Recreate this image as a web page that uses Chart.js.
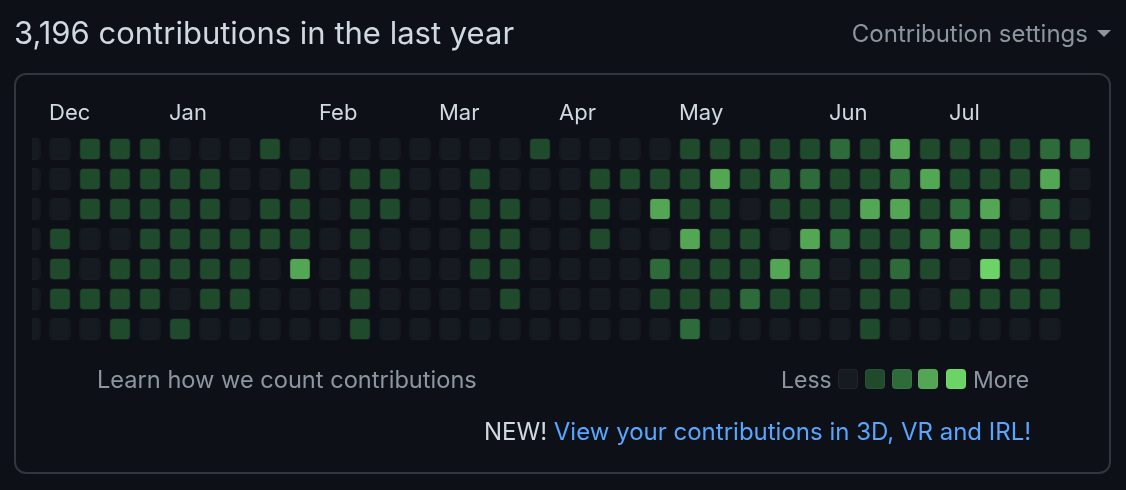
<!DOCTYPE html>
<html><head><meta charset="utf-8">
<script src="https://cdn.jsdelivr.net/npm/chart.js@4"></script>
<style>
html,body{margin:0;padding:0;background:#0d1117;width:1126px;height:490px;overflow:hidden;font-family:Inter,"Noto Sans",sans-serif;}
.abs{position:absolute;white-space:nowrap;}
#title{left:14px;top:17px;font-size:31px;line-height:31px;color:#d1d9e0;}
#settings{right:15px;top:22px;font-size:24px;line-height:24px;color:#8d96a0;}
#settings .caret{display:inline-block;width:0;height:0;border-left:7px solid transparent;border-right:7px solid transparent;border-top:7px solid #8d96a0;margin-left:9px;vertical-align:middle;position:relative;top:-2px;}
#box{left:14px;top:73px;width:1093px;height:397px;border:2px solid #30363d;border-radius:12px;}
#wrap{left:0;top:0;width:1126px;height:490px;}
#learn{left:97px;top:368px;font-size:23.6px;line-height:24px;color:#8d96a0;}
#less{left:781px;top:368.5px;font-size:23px;line-height:23px;color:#8d96a0;}
#more{left:973px;top:368.5px;font-size:23px;line-height:23px;color:#8d96a0;}
.sq{position:absolute;top:369px;width:20px;height:20px;border-radius:4px;box-sizing:border-box;border:1px solid rgba(255,255,255,0.05);}
#news{left:484px;top:420px;font-size:24px;line-height:24px;color:#d1d9e0;}
#news a{color:#58a6ff;text-decoration:none;}
</style></head>
<body>
<div id="box" class="abs"></div>
<div id="wrap" class="abs"><canvas id="c"></canvas></div>
<div id="title" class="abs">3,196 contributions in the last year</div>
<div id="settings" class="abs">Contribution settings<span class="caret"></span></div>
<div id="learn" class="abs">Learn how we count contributions</div>
<div id="less" class="abs">Less</div>
<div id="legendSquares"></div>
<div id="more" class="abs">More</div>
<div id="news" class="abs">NEW! <a>View your contributions in 3D, VR and IRL!</a></div>
<script>
// ---- data ----
const weekdays = ['Sun','Mon','Tue','Wed','Thu','Fri','Sat'];
const weeks = [0,1,2,3,4,5,6,7,8,9,10,11,12,13,14,15,16,17,18,19,20,21,22,23,24,25,26,27,28,29,30,31,32,33,34,35];
const monthLabels = ['Dec','Jan','Feb','Mar','Apr','May','Jun','Jul'];
const monthStartWeek = [1,5,10,14,18,22,27,31];
// contribution level (0-4) per week column, one array per weekday; null = future day
const sun = [0,0,1,1,1,0,0,0,1,0,0,0,0,0,0,0,0,1,0,0,0,0,1,1,1,1,1,2,1,3,1,1,1,1,2,2];
const mon = [0,0,1,1,1,1,1,0,0,1,0,1,1,0,0,1,0,0,0,1,1,1,1,3,1,2,2,1,1,2,3,1,1,1,3,0];
const tue = [0,0,1,1,1,1,1,0,1,1,0,1,1,0,0,1,1,0,0,1,0,3,1,1,0,1,1,1,3,3,1,2,3,0,2,0];
const wed = [0,1,0,0,1,1,1,1,1,1,0,1,0,0,0,1,1,0,0,1,0,0,3,1,1,0,3,2,1,1,2,3,1,1,1,1];
const thu = [0,1,0,1,1,1,1,1,0,3,0,1,0,0,0,1,1,0,0,0,0,2,1,1,1,3,2,0,1,2,1,0,4,1,1,null];
const fri = [0,1,1,1,1,0,1,1,0,0,0,1,0,0,0,0,1,0,0,0,0,1,1,1,2,1,1,0,1,1,0,1,1,1,1,null];
const sat = [0,0,0,1,0,1,0,0,0,0,0,1,0,0,0,0,0,0,0,0,0,0,2,0,0,0,0,0,1,0,0,0,0,0,0,null];
const legendLevels = [0,1,2,3,4];

// ---- styles ----
const palette = ['#161b22','#1f4a2c','#2e6b3a','#53a653','#6cd467'];
const rows = [sun,mon,tue,wed,thu,fri,sat];
const HALF = 11/30;

// legend squares
const lsq = document.getElementById('legendSquares');
const sqLeft = [838,865,892,918,946];
legendLevels.forEach((lv,i)=>{
  const d=document.createElement('div'); d.className='sq';
  d.style.left=sqLeft[i]+'px'; d.style.background=palette[lv]; lsq.appendChild(d);
});

Chart.defaults.font.family = 'Inter';
const datasets = weekdays.map((name,r)=>({
  label:name,
  data: weeks.map((w,i)=> rows[r][i]===null ? null : {x:w, y:[r-HALF, r+HALF], level:rows[r][i]}).filter(p=>p!==null),
  backgroundColor: c => palette[c.raw.level],
  borderColor:'rgba(255,255,255,0.05)',
  borderWidth:1,
  borderRadius:4,
  borderSkipped:false,
  maxBarThickness:22,
  grouped:false,
  clip:0
}));

new Chart(document.getElementById('c'), {
  type:'bar',
  data:{datasets},
  options:{
    responsive:true, maintainAspectRatio:false, animation:false,
    layout:{padding:{left:32,right:26,top:94,bottom:146}, autoPadding:false},
    plugins:{legend:{display:false}, tooltip:{enabled:false}},
    scales:{
      x:{type:'linear', position:'top', min:2/30, max:2/30+1068/30, offset:false,
         grid:{display:false, drawTicks:false}, border:{display:false},
         afterFit: a => { a.height = 40; },
         afterBuildTicks: a => { a.ticks = monthStartWeek.map(w=>({value:w-HALF})); },
         ticks:{autoSkip:false, maxRotation:0, align:'start', padding:7.3, color:'#d1d9e0', font:{size:22},
                callback:(v,i)=>monthLabels[i]}},
      y:{type:'linear', reverse:true, min:-0.5, max:6.5, display:false}
    }
  }
});
</script>
</body></html>
